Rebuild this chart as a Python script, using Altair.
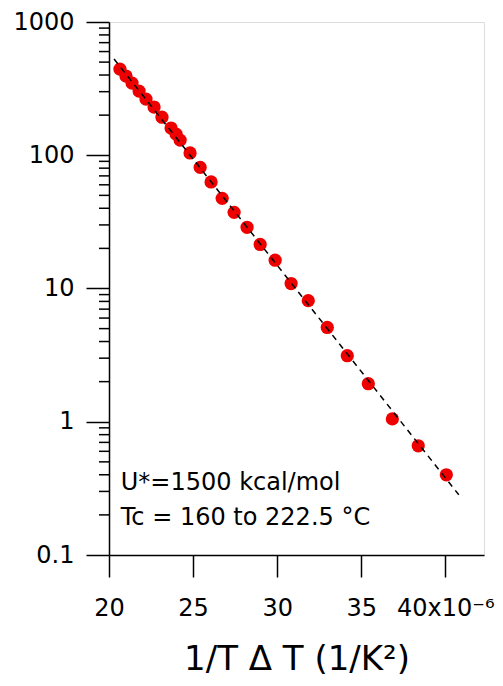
import altair as alt
import pandas as pd

# data (x in units of 1e-6 1/K^2)
x_vals = [20.65, 21.01, 21.37, 21.79, 22.20, 22.68, 23.15, 23.69, 23.99, 24.23,
          24.82, 25.42, 26.07, 26.73, 27.44, 28.21, 28.99, 29.88, 30.83, 31.85,
          32.98, 34.17, 35.42, 36.85, 38.39, 40.06]
y_vals = [443, 393, 348, 303, 264, 230, 193, 160, 144, 130,
          104, 81, 63, 47.5, 37.3, 28.8, 21.4, 16.3, 10.9, 8.1,
          5.1, 3.13, 1.93, 1.05, 0.66, 0.40]

fit_x = [20.3, 40.8]
fit_y = [527, 0.283]

x_ticks = [20, 25, 30, 35, 40]
y_major = [0.1, 1, 10, 100, 1000]
y_minor = [m * d for d in [0.1, 1, 10, 100] for m in range(2, 10)]

ann_text = ["U*=1500 kcal/mol", "Tc = 160 to 222.5 °C"]
ann_x = [20.7, 20.7]
ann_y = [0.308, 0.168]

FONT = "DejaVu Sans"

pts = pd.DataFrame({"x": x_vals, "y": y_vals})
fit = pd.DataFrame({"x": fit_x, "y": fit_y})
minor = pd.DataFrame({"y": y_minor})
ann = pd.DataFrame({"t": ann_text, "x": ann_x, "y": ann_y})

xscale = alt.Scale(domain=[20, 42.3], nice=False, zero=False)
yscale = alt.Scale(type="log", domain=[0.1, 1000], nice=False)

xaxis = alt.Axis(
    values=x_ticks, title="1/T Δ T (1/K²)", grid=False, labelFlush=False,
    tickSize=22, tickWidth=1.5, tickColor="black",
    domainColor="black", domainWidth=1.5,
    labelFont=FONT, labelFontSize=24, labelColor="black", labelPadding=19,
    labelExpr="datum.value == 40 ? '40x10⁻⁶' : datum.label",
    titleFont=FONT, titleFontSize=34, titleFontWeight="normal", titleColor="black",
    titlePadding=22,
)
yaxis = alt.Axis(
    values=y_major, title=None, grid=False, format="~g", labelFlush=False,
    tickSize=23, tickWidth=1.5, tickColor="black",
    domainColor="black", domainWidth=1.5,
    labelFont=FONT, labelFontSize=24, labelColor="black", labelPadding=12,
)

points = alt.Chart(pts).mark_circle(size=175, color="#ee0000", opacity=1).encode(
    x=alt.X("x:Q", scale=xscale, axis=xaxis),
    y=alt.Y("y:Q", scale=yscale, axis=yaxis),
)

line = alt.Chart(fit).mark_line(color="black", strokeWidth=1.5, strokeDash=[6, 5]).encode(
    x="x:Q", y="y:Q"
)

minor_ticks = alt.Chart(minor).mark_rule(color="black", strokeWidth=1.5).encode(
    y="y:Q", x=alt.value(-10), x2=alt.value(0)
)

text = alt.Chart(ann).mark_text(
    align="left", baseline="alphabetic", font=FONT, fontSize=24, color="black"
).encode(x="x:Q", y="y:Q", text="t:N")

chart = alt.layer(points, line, minor_ticks, text).properties(
    width=375, height=533,
    padding={"left": 4, "top": 2, "right": 0, "bottom": 2},
).configure_view(stroke="black", strokeWidth=1.5).configure(background="white")

chart.save("out.html", embed_options={"renderer": "svg", "actions": False})
